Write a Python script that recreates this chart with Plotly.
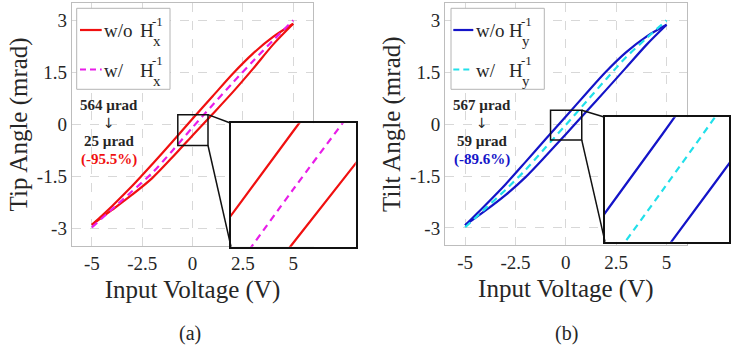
import plotly.graph_objects as go

# ---------------- data ----------------
volt = [-5, -4, -3, -2, -1, 0, 1, 2, 3, 4, 5]

# (a) tip axis: descending (upper) and ascending (lower) branches, compensated curve
tip_up = [-2.90, -2.36, -1.78, -1.15, -0.50, 0.16, 0.81, 1.46, 2.04, 2.52, 2.90]
tip_lo = [-2.90, -2.47, -2.03, -1.55, -0.95, -0.32, 0.30, 0.93, 1.60, 2.30, 2.90]
tip_comp = [-2.97, -2.45, -1.93, -1.40, -0.76, -0.09, 0.56, 1.20, 1.82, 2.42, 3.00]

# (b) tilt axis
tilt_up = [-2.92, -2.34, -1.74, -1.09, -0.43, 0.22, 0.88, 1.52, 2.08, 2.53, 2.87]
tilt_lo = [-2.92, -2.50, -2.05, -1.53, -0.92, -0.29, 0.35, 0.99, 1.64, 2.29, 2.87]
tilt_comp = [-2.98, -2.44, -1.90, -1.32, -0.67, -0.02, 0.64, 1.30, 1.94, 2.48, 3.00]

x_ticks = [-5, -2.5, 0, 2.5, 5]
x_ticklabels = ["-5", "-2.5", "0", "2.5", "5"]
y_ticks = [-3, -1.5, 0, 1.5, 3]
y_ticklabels = ["-3", "-1.5", "0", "1.5", "3"]

# ---------------- styling / layout ----------------
W, H = 731, 350
FONT = "Liberation Serif"
TXT = "#262626"
RED, MAG = "#f01010", "#e81ee8"
BLUE, CYAN = "#1414c8", "#22e0ea"


def px(x):
    return x / W


def py(y):
    return 1 - y / H


XR = [-6, 6]
YR = [-3.5, 3.5]
main_dom = {
    "a": ([px(71.7), px(313.3)], [py(245.7), py(3)]),
    "b": ([px(445), px(686.7)], [py(245.3), py(3)]),
}
inset_dom = {
    "a": ([px(231), px(355.7)], [py(246.7), py(123.3)]),
    "b": ([px(605), px(729.3)], [py(241.7), py(117.3)]),
}
inset_rng = {
    "a": ([-0.55, 0.55], [-0.337, 0.193]),
    "b": ([-0.52, 0.60], [-0.24, 0.29]),
}
zoom_box = {
    "a": ([-0.73, 0.77], [-0.61, 0.28]),
    "b": ([-0.76, 0.79], [-0.46, 0.40]),
}

fig = go.Figure()

panels = [
    ("a", "x", "y", "x3", "y3", tip_up, tip_lo, tip_comp, RED, MAG),
    ("b", "x2", "y2", "x4", "y4", tilt_up, tilt_lo, tilt_comp, BLUE, CYAN),
]

for key, xa, ya, xi, yi, up, lo, comp, c1, c2 in panels:
    for (xr, yr) in ((xa, ya), (xi, yi)):
        for branch in (lo, up):
            fig.add_trace(go.Scatter(x=volt, y=branch, mode="lines", xaxis=xr, yaxis=yr,
                                     line=dict(color=c1, width=2.2, shape="spline", smoothing=0.8),
                                     showlegend=False, hoverinfo="skip"))
        fig.add_trace(go.Scatter(x=volt, y=comp, mode="lines", xaxis=xr, yaxis=yr,
                                 line=dict(color=c2, width=2.2, dash="7px,5px", shape="spline", smoothing=0.8),
                                 showlegend=False, hoverinfo="skip"))

axis_main = dict(range=XR, tickvals=x_ticks, ticktext=x_ticklabels, showgrid=True,
                 gridcolor="#d8d8d8", griddash="dash", gridwidth=1, zeroline=False,
                 showline=True, mirror=True, linecolor="#bdbdbd", linewidth=1,
                 ticks="", tickfont=dict(family=FONT, size=19, color=TXT))
yaxis_main = dict(range=YR, tickvals=y_ticks, ticktext=y_ticklabels, showgrid=True,
                  gridcolor="#d8d8d8", griddash="dash", gridwidth=1, zeroline=False,
                  showline=True, mirror=True, linecolor="#bdbdbd", linewidth=1,
                  ticks="", tickfont=dict(family=FONT, size=19, color=TXT))
axis_inset = dict(showgrid=False, zeroline=False, showticklabels=False, ticks="",
                  showline=True, mirror=True, linecolor="#111111", linewidth=2)

fig.update_layout(
    width=W, height=H, margin=dict(l=0, r=0, t=0, b=0),
    paper_bgcolor="white", plot_bgcolor="white", showlegend=False,
    font=dict(family=FONT, color=TXT),
    xaxis=dict(axis_main, domain=main_dom["a"][0], anchor="y",
               title=dict(text="Input Voltage (V)", font=dict(size=25, color=TXT), standoff=7)),
    yaxis=dict(yaxis_main, domain=main_dom["a"][1], anchor="x",
               title=dict(text="Tip Angle (mrad)", font=dict(size=25, color=TXT), standoff=2)),
    xaxis2=dict(axis_main, domain=main_dom["b"][0], anchor="y2",
                title=dict(text="Input Voltage (V)", font=dict(size=25, color=TXT), standoff=7)),
    yaxis2=dict(yaxis_main, domain=main_dom["b"][1], anchor="x2",
                title=dict(text="Tilt Angle (mrad)", font=dict(size=25, color=TXT), standoff=2)),
    xaxis3=dict(axis_inset, domain=inset_dom["a"][0], range=inset_rng["a"][0], anchor="y3"),
    yaxis3=dict(axis_inset, domain=inset_dom["a"][1], range=inset_rng["a"][1], anchor="x3"),
    xaxis4=dict(axis_inset, domain=inset_dom["b"][0], range=inset_rng["b"][0], anchor="y4"),
    yaxis4=dict(axis_inset, domain=inset_dom["b"][1], range=inset_rng["b"][1], anchor="x4"),
)

shapes = []
annotations = []

# inset white backgrounds, zoom boxes and connector lines
for key, xa, ya, xi, yi in (("a", "x", "y", "x3", "y3"), ("b", "x2", "y2", "x4", "y4")):
    ixr, iyr = inset_rng[key]
    shapes.append(dict(type="rect", xref=xi, yref=yi, x0=ixr[0], x1=ixr[1], y0=iyr[0], y1=iyr[1],
                       fillcolor="white", line=dict(width=0), layer="below"))
    bx, by = zoom_box[key]
    shapes.append(dict(type="rect", xref=xa, yref=ya, x0=bx[0], x1=bx[1], y0=by[0], y1=by[1],
                       line=dict(color="#111111", width=1.5), layer="above"))
    xd, yd = main_dom[key]
    bx1 = xd[0] + (bx[1] - XR[0]) / (XR[1] - XR[0]) * (xd[1] - xd[0])
    by0 = yd[0] + (by[0] - YR[0]) / (YR[1] - YR[0]) * (yd[1] - yd[0])
    by1 = yd[0] + (by[1] - YR[0]) / (YR[1] - YR[0]) * (yd[1] - yd[0])
    ixd, iyd = inset_dom[key]
    shapes.append(dict(type="line", xref="paper", yref="paper", x0=bx1, y0=by1, x1=ixd[0], y1=iyd[1],
                       line=dict(color="#111111", width=1.5), layer="above"))
    shapes.append(dict(type="line", xref="paper", yref="paper", x0=bx1, y0=by0, x1=ixd[0], y1=iyd[0],
                       line=dict(color="#111111", width=1.5), layer="above"))

# manual legends (stacked sub/superscripts)
legends = [
    (76.7, 170, 80, 101.7, 102.5, 138.5, 150.5, "x", RED, MAG),
    (451, 544.3, 453.3, 473.3, 474.5, 507.5, 520, "y", BLUE, CYAN),
]
for bx0, bx1, lx0, lx1, tx, hx, sx, sub, c1, c2 in legends:
    shapes.append(dict(type="rect", xref="paper", yref="paper", x0=px(bx0), x1=px(bx1),
                       y0=py(89.3), y1=py(8.3), fillcolor="white",
                       line=dict(color="#b4b4b4", width=1), layer="above"))
    shapes.append(dict(type="line", xref="paper", yref="paper", x0=px(lx0), x1=px(lx1),
                       y0=py(30), y1=py(30), line=dict(color=c1, width=2.2), layer="above"))
    shapes.append(dict(type="line", xref="paper", yref="paper", x0=px(lx0), x1=px(lx1),
                       y0=py(69.5), y1=py(69.5), line=dict(color=c2, width=2.2, dash="6px,4px"), layer="above"))
    for row_y, word in ((31, "w/o"), (70.5, "w/")):
        annotations.append(dict(text=word, x=px(tx), y=py(row_y), xref="paper", yref="paper",
                                xanchor="left", yanchor="middle", showarrow=False, borderpad=0,
                                font=dict(family=FONT, size=19, color=TXT)))
        annotations.append(dict(text="H", x=px(hx), y=py(row_y), xref="paper", yref="paper",
                                xanchor="left", yanchor="middle", showarrow=False, borderpad=0,
                                font=dict(family=FONT, size=19, color=TXT)))
        annotations.append(dict(text="-1", x=px(sx), y=py(row_y - 9.5), xref="paper", yref="paper",
                                xanchor="left", yanchor="middle", showarrow=False, borderpad=0,
                                font=dict(family=FONT, size=13, color=TXT)))
        annotations.append(dict(text=sub, x=px(sx + 1), y=py(row_y + 10), xref="paper", yref="paper",
                                xanchor="left", yanchor="middle", showarrow=False, borderpad=0,
                                font=dict(family=FONT, size=15, color=TXT)))

# hysteresis reduction notes
notes = [
    (109, ["564 µrad", "↓", "25 µrad", "(-95.5%)"], RED),
    (482, ["567 µrad", "↓", "59 µrad", "(-89.6%)"], BLUE),
]
for cx, lines, col in notes:
    ys = [104.5, 123, 141, 159.5]
    for i, (t, yy) in enumerate(zip(lines, ys)):
        annotations.append(dict(text=("<b>%s</b>" % t) if i != 1 else t, x=px(cx), y=py(yy),
                                xref="paper", yref="paper", xanchor="center", yanchor="middle",
                                showarrow=False,
                                font=dict(family=FONT if i != 1 else "DejaVu Sans",
                                          size=15 if i != 1 else 14,
                                          color=col if i == 3 else TXT)))

# panel labels
for cx, lab in ((190, "(a)"), (566, "(b)")):
    annotations.append(dict(text=lab, x=px(cx), y=py(333), xref="paper", yref="paper",
                            xanchor="center", yanchor="middle", showarrow=False,
                            font=dict(family=FONT, size=20, color=TXT)))

fig.update_layout(shapes=shapes, annotations=annotations)
fig.write_html("out.html")
